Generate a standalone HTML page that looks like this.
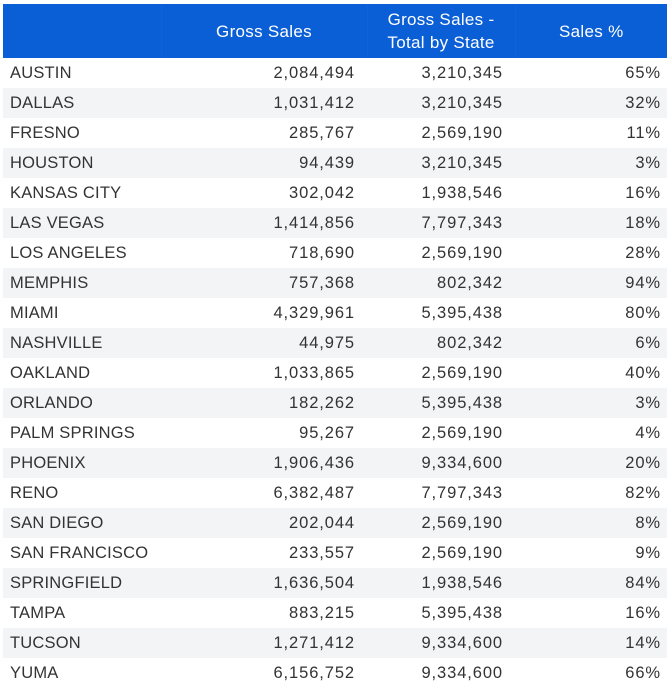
<!DOCTYPE html>
<html><head><style>
body{margin:0;background:#fff;font-family:"Liberation Sans",sans-serif;}
table{position:absolute;left:3px;top:4px;width:664px;border-collapse:collapse;table-layout:fixed;font-size:16.5px;color:#333;}
th{background:#0b5fd6;color:#fff;font-weight:normal;font-size:17px;height:54px;line-height:23px;text-align:center;padding:0;border-left:1px solid #0f62d7;letter-spacing:0.3px}
th:first-child{border-left:none}
td{height:30px;padding:0;white-space:nowrap}
td:first-child{padding-left:7px;letter-spacing:0.2px}
td.n{text-align:right;letter-spacing:0.9px}
td.a{padding-right:12px}
td.b{padding-right:12px}
td.c{padding-right:6px}
tr:nth-child(even) td{background:#f3f4f6}
</style></head><body>
<table>
<colgroup><col style="width:158px"><col style="width:206px"><col style="width:148px"><col style="width:152px"></colgroup>
<thead><tr><th></th><th>Gross Sales</th><th>Gross Sales -<br>Total by State</th><th>Sales %</th></tr></thead>
<tbody>
<tr><td>AUSTIN</td><td class="n a">2,084,494</td><td class="n b">3,210,345</td><td class="n c">65%</td></tr>
<tr><td>DALLAS</td><td class="n a">1,031,412</td><td class="n b">3,210,345</td><td class="n c">32%</td></tr>
<tr><td>FRESNO</td><td class="n a">285,767</td><td class="n b">2,569,190</td><td class="n c">11%</td></tr>
<tr><td>HOUSTON</td><td class="n a">94,439</td><td class="n b">3,210,345</td><td class="n c">3%</td></tr>
<tr><td>KANSAS CITY</td><td class="n a">302,042</td><td class="n b">1,938,546</td><td class="n c">16%</td></tr>
<tr><td>LAS VEGAS</td><td class="n a">1,414,856</td><td class="n b">7,797,343</td><td class="n c">18%</td></tr>
<tr><td>LOS ANGELES</td><td class="n a">718,690</td><td class="n b">2,569,190</td><td class="n c">28%</td></tr>
<tr><td>MEMPHIS</td><td class="n a">757,368</td><td class="n b">802,342</td><td class="n c">94%</td></tr>
<tr><td>MIAMI</td><td class="n a">4,329,961</td><td class="n b">5,395,438</td><td class="n c">80%</td></tr>
<tr><td>NASHVILLE</td><td class="n a">44,975</td><td class="n b">802,342</td><td class="n c">6%</td></tr>
<tr><td>OAKLAND</td><td class="n a">1,033,865</td><td class="n b">2,569,190</td><td class="n c">40%</td></tr>
<tr><td>ORLANDO</td><td class="n a">182,262</td><td class="n b">5,395,438</td><td class="n c">3%</td></tr>
<tr><td>PALM SPRINGS</td><td class="n a">95,267</td><td class="n b">2,569,190</td><td class="n c">4%</td></tr>
<tr><td>PHOENIX</td><td class="n a">1,906,436</td><td class="n b">9,334,600</td><td class="n c">20%</td></tr>
<tr><td>RENO</td><td class="n a">6,382,487</td><td class="n b">7,797,343</td><td class="n c">82%</td></tr>
<tr><td>SAN DIEGO</td><td class="n a">202,044</td><td class="n b">2,569,190</td><td class="n c">8%</td></tr>
<tr><td>SAN FRANCISCO</td><td class="n a">233,557</td><td class="n b">2,569,190</td><td class="n c">9%</td></tr>
<tr><td>SPRINGFIELD</td><td class="n a">1,636,504</td><td class="n b">1,938,546</td><td class="n c">84%</td></tr>
<tr><td>TAMPA</td><td class="n a">883,215</td><td class="n b">5,395,438</td><td class="n c">16%</td></tr>
<tr><td>TUCSON</td><td class="n a">1,271,412</td><td class="n b">9,334,600</td><td class="n c">14%</td></tr>
<tr><td>YUMA</td><td class="n a">6,156,752</td><td class="n b">9,334,600</td><td class="n c">66%</td></tr>
</tbody></table>
</body></html>
